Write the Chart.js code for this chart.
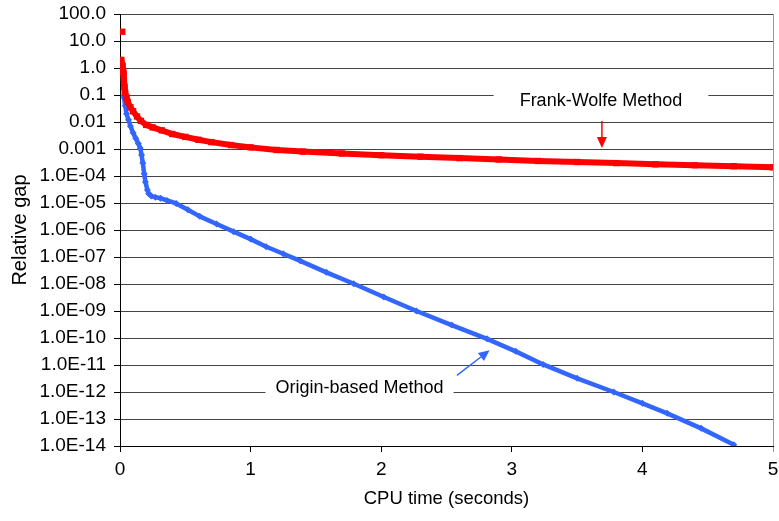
<!DOCTYPE html>
<html>
<head>
<meta charset="utf-8">
<script src="https://cdn.jsdelivr.net/npm/chart.js@4/dist/chart.umd.min.js"></script>
<style>
  html, body { margin: 0; padding: 0; background: #fff; }
  #wrap { width: 779px; height: 521px; }
</style>
</head>
<body>
<div id="wrap"><canvas id="grafico" width="779" height="521"></canvas></div>
<script>
// Frank-Wolfe: tempo de CPU (s) e gap relativo
const fwTime = [0.017, 0.003, 0.01, 0.02, 0.025, 0.03, 0.035, 0.04, 0.05, 0.06, 0.08, 0.1, 0.13, 0.16,
                0.2, 0.25, 0.32, 0.4, 0.5, 0.6, 0.7, 0.85, 1.0, 1.2, 1.4, 1.7, 2.0, 2.3, 2.6, 2.9,
                3.2, 3.5, 3.8, 4.1, 4.4, 4.7, 5.0];
const fwGap = [22, 1.4, 2.0, 1.2, 0.7, 0.35, 0.2, 0.12, 0.08, 0.055, 0.035, 0.025, 0.016, 0.011,
               0.0078, 0.0063, 0.0049, 0.0036, 0.0028, 0.0022, 0.0018, 0.0014, 0.00115, 0.00092, 0.0008, 0.00068, 0.00059, 0.00052, 0.00046, 0.00041,
               0.00036, 0.00033, 0.0003, 0.00027, 0.00025, 0.00023, 0.00021];

// Origin-based
const obTime = [0.02, 0.03, 0.04, 0.05, 0.065, 0.08, 0.1, 0.12, 0.14, 0.155, 0.165, 0.175, 0.185, 0.195,
                0.21, 0.22, 0.24, 0.27, 0.31, 0.36, 0.43, 0.52, 0.61, 0.74, 0.87, 1.0, 1.12, 1.25,
                1.38, 1.58, 1.79, 2.02, 2.27, 2.54, 2.81, 3.03, 3.24, 3.5, 3.78, 4.0, 4.19, 4.45, 4.7];
const obGap = [1.0, 0.08, 0.04, 0.02, 0.012, 0.007, 0.004, 0.0025, 0.0016, 0.0011, 6e-4, 3e-4, 1.2e-4, 6e-5,
               3e-5, 2.2e-5, 1.8e-5, 1.65e-5, 1.5e-5, 1.25e-5, 9.6e-6, 5.6e-6, 3.2e-6, 1.66e-6, 8.7e-7, 4.6e-7, 2.4e-7, 1.32e-7,
               7.2e-8, 2.7e-8, 1.02e-8, 3.3e-9, 1.0e-9, 3.0e-10, 9.3e-11, 3.2e-11, 1.05e-11, 3.2e-12, 1.0e-12, 3.8e-13, 1.62e-13, 4.5e-14, 1.12e-14];

const xTicks = [0, 1, 2, 3, 4, 5];
const yTickValues = [1e-14, 1e-13, 1e-12, 1e-11, 1e-10, 1e-9, 1e-8, 1e-7, 1e-6, 1e-5, 1e-4, 0.001, 0.01, 0.1, 1, 10, 100];
const yTickLabels = ['1.0E-14', '1.0E-13', '1.0E-12', '1.0E-11', '1.0E-10', '1.0E-09', '1.0E-08', '1.0E-07',
                     '1.0E-06', '1.0E-05', '1.0E-04', '0.001', '0.01', '0.1', '1.0', '10.0', '100.0'];

// legendas com seta
const noteLabels = ['Frank-Wolfe Method', 'Origin-based Method'];
const noteAt = [[3.683, 0.0615], [1.834, 1.4e-12]];
const arrowFrom = [[3.69, 0.011], [2.58, 4.1e-12]];
const arrowTo = [[3.69, 0.00108], [2.83, 3.5e-11]];

const RED = '#ff0000';
const BLUE = '#3366ff';
const FONT = '"Liberation Sans", Arial, sans-serif';
const notePad = [26, 10];
const noteColor = [RED, BLUE];

const notesPlugin = {
    id: 'notes',
    afterDatasetsDraw(chart) {
        const { ctx, scales: { x, y } } = chart;
        ctx.save();
        ctx.font = '18px ' + FONT;
        ctx.textAlign = 'center';
        ctx.textBaseline = 'middle';
        noteLabels.forEach((txt, i) => {
            const px = x.getPixelForValue(noteAt[i][0]);
            const py = y.getPixelForValue(noteAt[i][1]);
            const w = ctx.measureText(txt).width + notePad[i] * 2;
            ctx.fillStyle = '#fff';
            ctx.fillRect(px - w / 2, py - 11, w, 22);
            ctx.fillStyle = '#000';
            ctx.fillText(txt, px, py);

            // seta
            const x0 = x.getPixelForValue(arrowFrom[i][0]), y0 = y.getPixelForValue(arrowFrom[i][1]);
            const x1 = x.getPixelForValue(arrowTo[i][0]), y1 = y.getPixelForValue(arrowTo[i][1]);
            const ang = Math.atan2(y1 - y0, x1 - x0);
            const head = 11, half = 5;
            ctx.strokeStyle = noteColor[i];
            ctx.fillStyle = noteColor[i];
            ctx.lineWidth = 1.5;
            ctx.beginPath();
            ctx.moveTo(x0, y0);
            ctx.lineTo(x1 - Math.cos(ang) * head, y1 - Math.sin(ang) * head);
            ctx.stroke();
            ctx.beginPath();
            ctx.moveTo(x1, y1);
            ctx.lineTo(x1 - Math.cos(ang) * head - Math.sin(ang) * half, y1 - Math.sin(ang) * head + Math.cos(ang) * half);
            ctx.lineTo(x1 - Math.cos(ang) * head + Math.sin(ang) * half, y1 - Math.sin(ang) * head - Math.cos(ang) * half);
            ctx.closePath();
            ctx.fill();
        });
        ctx.restore();
    }
};

const ctx = document.getElementById('grafico').getContext('2d');
new Chart(ctx, {
    type: 'scatter',
    data: {
        datasets: [{
            label: 'Frank-Wolfe Method',
            data: fwTime.map((t, i) => ({ x: t, y: fwGap[i] })),
            showLine: true,
            borderColor: RED,
            backgroundColor: RED,
            borderWidth: 6,
            borderJoinStyle: 'round',
            pointStyle: 'rect',
            pointRadius: 4.5,
            pointBorderWidth: 0,
            segment: {
                // primeiro ponto isolado
                borderColor: c => c.p0DataIndex === 0 ? 'rgba(0,0,0,0)' : RED
            }
        }, {
            label: 'Origin-based Method',
            data: obTime.map((t, i) => ({ x: t, y: obGap[i] })),
            showLine: true,
            borderColor: BLUE,
            backgroundColor: BLUE,
            borderWidth: 4.5,
            borderJoinStyle: 'round',
            pointStyle: 'rectRot',
            pointRadius: 3.5,
            pointBorderWidth: 0
        }]
    },
    options: {
        responsive: false,
        animation: false,
        devicePixelRatio: 1,
        layout: { padding: { top: 14, right: 6, left: 0, bottom: 0 } },
        plugins: {
            legend: { display: false },
            tooltip: { enabled: false }
        },
        scales: {
            x: {
                type: 'linear',
                min: 0,
                max: 5,
                afterBuildTicks: s => { s.ticks = xTicks.map(v => ({ value: v })); },
                afterFit: s => {
                    s.height = 75;
                    s.paddingLeft = 0;
                    s.paddingRight = 0;
                },
                ticks: {
                    color: '#000',
                    font: { family: FONT, size: 19 },
                    padding: 6,
                    callback: v => String(v)
                },
                grid: {
                    color: c => (c.tick && c.tick.value === 5) ? '#999' : 'rgba(0,0,0,0)',
                    tickColor: c => (c.tick && c.tick.value === 5) ? '#999' : '#000',
                    tickLength: 6
                },
                border: { color: '#000', width: 1 },
                title: {
                    display: true,
                    text: 'CPU time (seconds)',
                    color: '#000',
                    font: { family: FONT, size: 18.5 },
                    padding: { top: 0, bottom: 11 }
                }
            },
            y: {
                type: 'logarithmic',
                min: 1e-14,
                max: 100,
                afterBuildTicks: s => { s.ticks = yTickValues.map(v => ({ value: v })); },
                afterFit: s => {
                    s.width = 120;
                    s.paddingTop = 0;
                    s.paddingBottom = 0;
                },
                ticks: {
                    color: '#000',
                    font: { family: FONT, size: 19 },
                    padding: 8,
                    autoSkip: false,
                    callback: (v, i) => yTickLabels[i]
                },
                grid: {
                    color: '#444',
                    tickColor: '#000',
                    tickLength: 6
                },
                border: { color: '#000', width: 1 },
                title: {
                    display: true,
                    text: 'Relative gap',
                    color: '#000',
                    font: { family: FONT, size: 20 },
                    padding: { top: 8, bottom: 0 }
                }
            }
        }
    },
    plugins: [notesPlugin]
});
</script>
</body>
</html>
